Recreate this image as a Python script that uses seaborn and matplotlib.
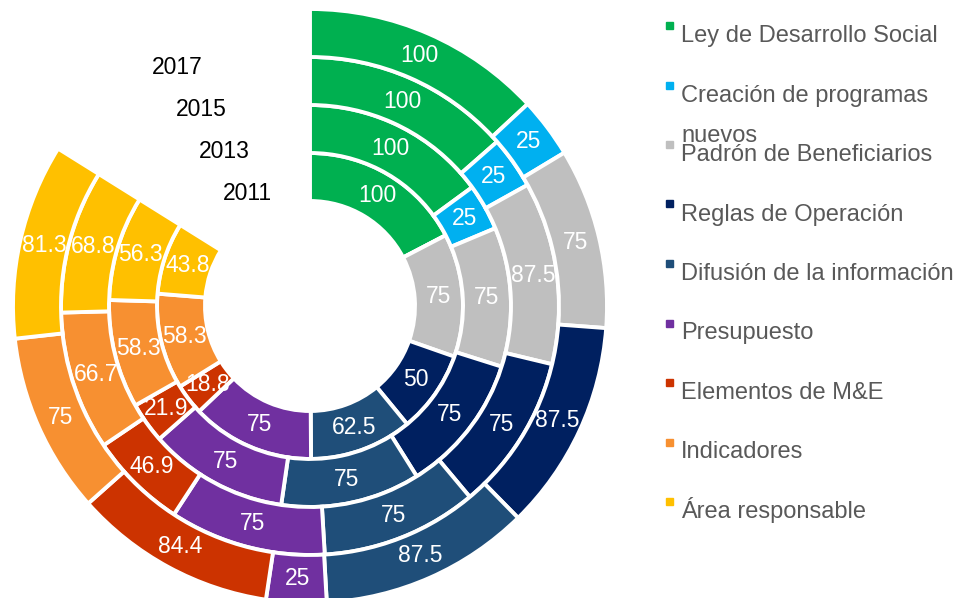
import numpy as np
import pandas as pd
import matplotlib.pyplot as plt
import matplotlib.patches as mpatches
import seaborn as sns

# Slice categories, clockwise from the top
categories = ['Ley de Desarrollo Social', 'Creación de programas\nnuevos', 'Padrón de Beneficiarios',
              'Reglas de Operación', 'Difusión de la información', 'Presupuesto',
              'Elementos de M&E', 'Indicadores', 'Área responsable']
years = ['2011', '2013', '2015', '2017']

# Scores per ring (inner -> outer)
score_2011 = [100, 0, 75, 50, 62.5, 75, 18.8, 58.3, 43.8]
score_2013 = [100, 25, 75, 75, 75, 75, 21.9, 58.3, 56.3]
score_2015 = [100, 25, 87.5, 75, 75, 75, 46.9, 66.7, 68.8]
score_2017 = [100, 25, 75, 87.5, 87.5, 25, 84.4, 75, 81.3]

colors = ['#00B050', '#00B0F0', '#BFBFBF', '#002060', '#1F4E79',
          '#7030A0', '#CC3300', '#F79031', '#FFC000']

sns.set_theme(style='white')
plt.rcParams['font.family'] = ['Liberation Sans', 'DejaVu Sans']

W, H = 962, 598
fig = plt.figure(figsize=(W / 100, H / 100), dpi=100)
ax = fig.add_axes([0, 0, 620 / W, 1])

# geometry in pixels (axes data units = pixels)
cx, cy = 310, 306
hole, ring_w = 105, 48
visible = 302  # degrees each ring covers

rings = [score_2011, score_2013, score_2015, score_2017]
for k, (year, vals) in enumerate(zip(years, rings)):
    r_out = hole + ring_w * (k + 1)
    gap = sum(vals) * (360 - visible) / visible
    wedges, _ = ax.pie(vals + [gap], radius=r_out, colors=colors + ['none'],
                       startangle=90, counterclock=False,
                       wedgeprops=dict(width=ring_w, edgecolor='white', linewidth=2.8))
    wedges[-1].set_visible(False)
    r_mid = r_out - ring_w / 2
    for w, v in zip(wedges[:-1], vals):
        if v == 0:
            continue
        a = np.deg2rad((w.theta1 + w.theta2) / 2)
        ax.text(r_mid * np.cos(a), r_mid * np.sin(a), f'{v:g}', color='white',
                fontsize=16.5, ha='center', va='center')
    # series name in the gap
    a = np.deg2rad(119)
    ax.text(r_mid * np.cos(a), r_mid * np.sin(a), year, color='black',
            fontsize=16.5, ha='center', va='center')

ax.set_xlim(-cx, 620 - cx)
ax.set_ylim(-(H - cy), cy)
ax.set_aspect('equal')
ax.axis('off')

# Legend on the right
for i, (name, c) in enumerate(zip(categories, colors)):
    base = 42 + 59.5 * i
    fig.patches.append(mpatches.Rectangle((666 / W, 1 - (base - 13) / H), 7 / W, 7 / H,
                                          transform=fig.transFigure, color=c))
    for j, line in enumerate(name.split('\n')):
        fig.text(681 / W, 1 - (base + 40 * j) / H, line, va='baseline', ha='left',
                 fontsize=17, color='#595959')

fig.savefig('out.png', dpi=100)
